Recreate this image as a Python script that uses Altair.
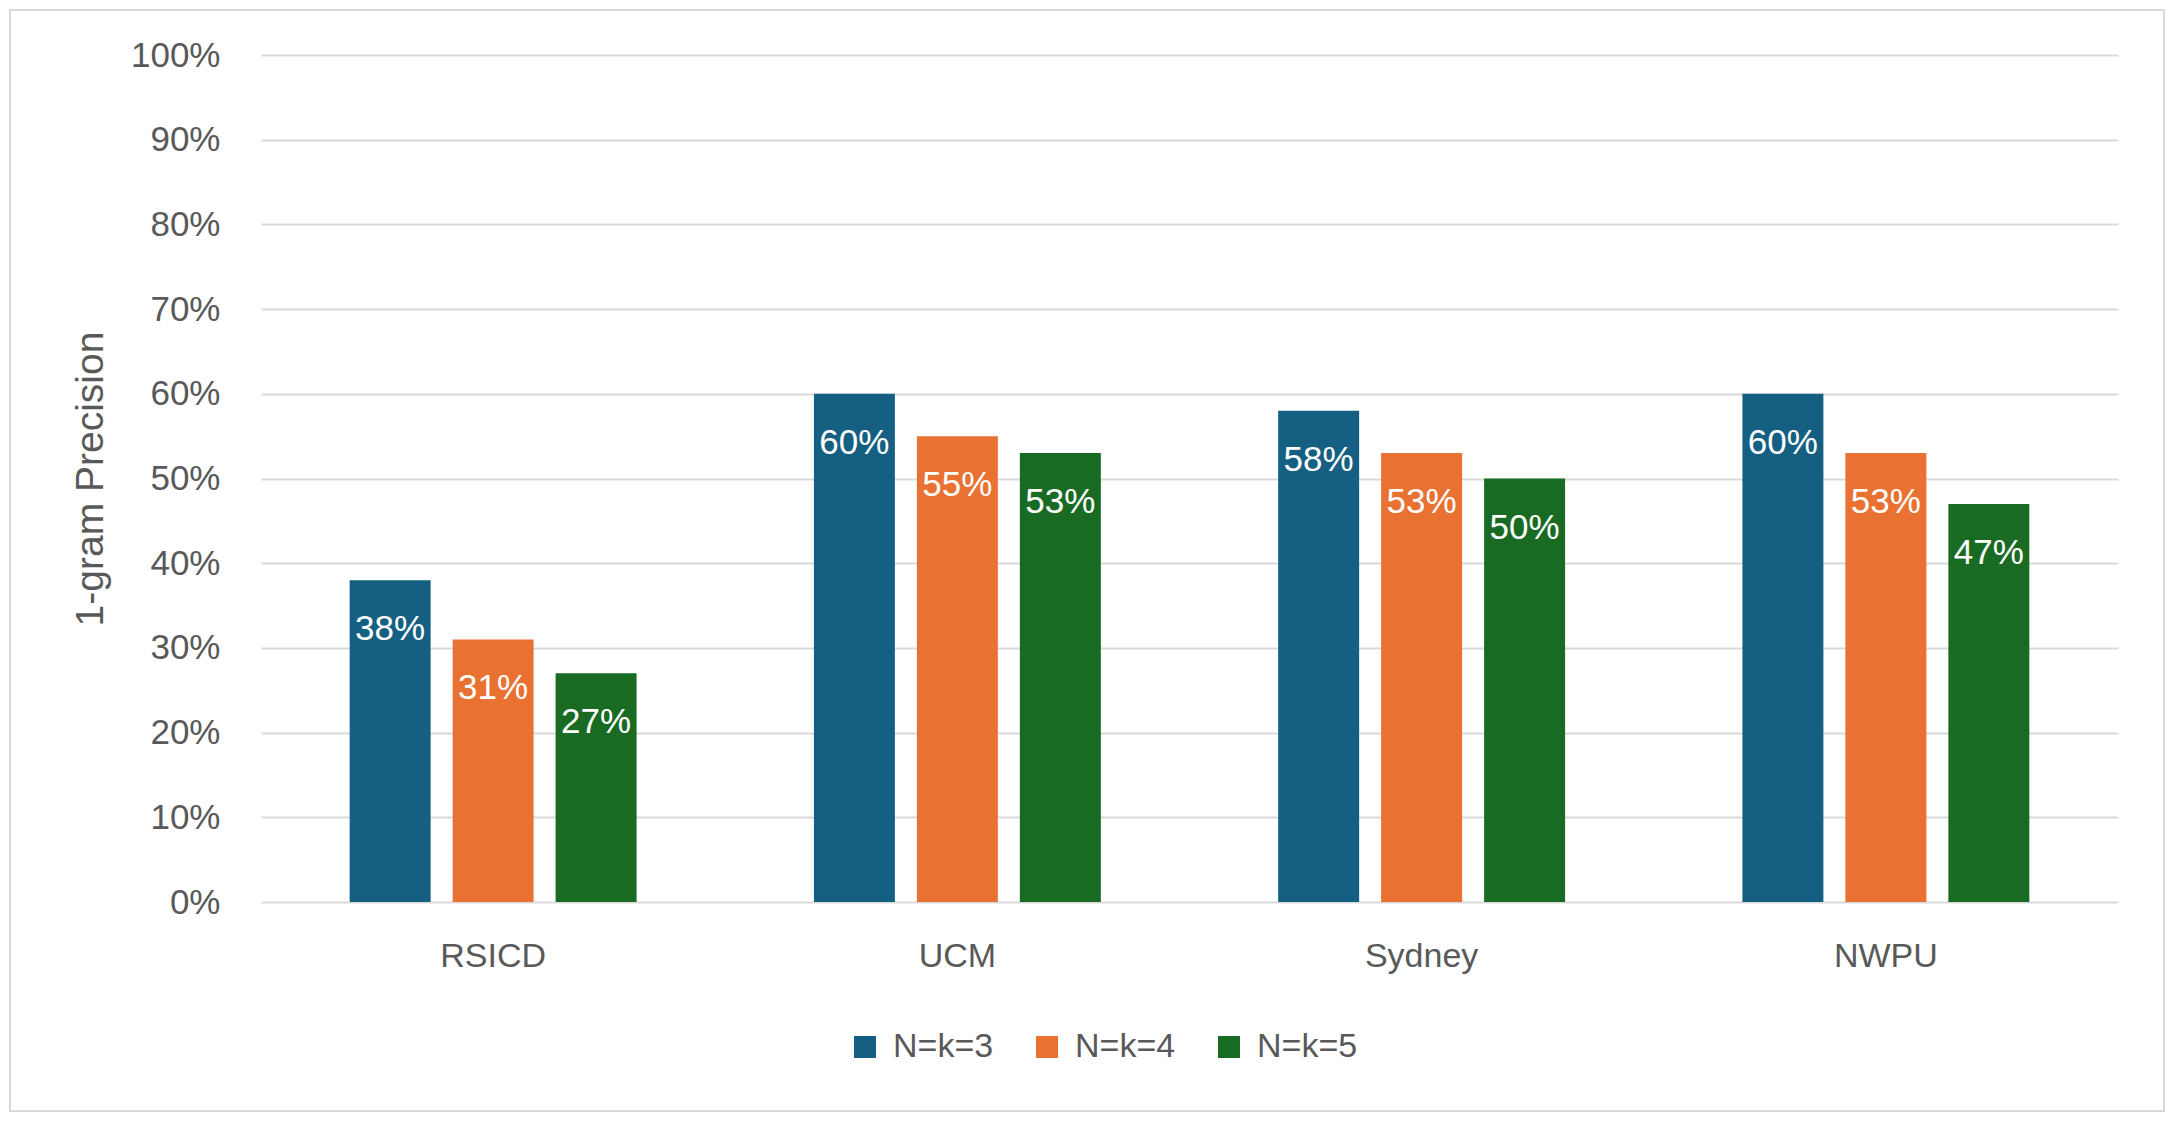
import altair as alt
import pandas as pd

# ---- data ----
categories = ["RSICD", "UCM", "Sydney", "NWPU"]
series = ["N=k=3", "N=k=4", "N=k=5"]
values_n3 = [0.38, 0.60, 0.58, 0.60]
values_n4 = [0.31, 0.55, 0.53, 0.53]
values_n5 = [0.27, 0.53, 0.50, 0.47]
y_ticks = [0.0, 0.1, 0.2, 0.3, 0.4, 0.5, 0.6, 0.7, 0.8, 0.9, 1.0]
y_title = "1-gram Precision"

colors = ["#156082", "#E97132", "#196B24"]
FONT = "Liberation Sans"
GREY = "#595959"
GRID = "#d9d9d9"

rows = []
for s, vals in zip(series, [values_n3, values_n4, values_n5]):
    for c, v in zip(categories, vals):
        rows.append({"dataset": c, "setting": s, "precision": v})
df = pd.DataFrame(rows)

base = alt.Chart(df).encode(
    x=alt.X(
        "dataset:N",
        sort=categories,
        scale=alt.Scale(paddingInner=0, paddingOuter=0),
        axis=alt.Axis(
            title=None,
            labelAngle=0,
            labelFont=FONT,
            labelFontSize=34,
            labelColor=GREY,
            labelPadding=37,
            ticks=False,
            tickSize=0,
            domain=False,
            grid=False,
        ),
    ),
    xOffset=alt.XOffset(
        "setting:N",
        sort=series,
        scale=alt.Scale(paddingInner=0.2136, paddingOuter=0.861),
    ),
    y=alt.Y(
        "precision:Q",
        scale=alt.Scale(domain=[0, 1], nice=False),
        axis=alt.Axis(
            values=y_ticks,
            format=".0%",
            labelFont=FONT,
            labelFontSize=35,
            labelColor=GREY,
            labelPadding=41,
            ticks=False,
            tickSize=0,
            domain=False,
            grid=True,
            gridColor=GRID,
            gridWidth=2,
            title=y_title,
            titleFont=FONT,
            titleFontSize=39,
            titleFontWeight="normal",
            titleColor=GREY,
            titleAngle=270,
            titleX=-171,
            titleY=423.5,
            titleAlign="center",
            titleBaseline="middle",
        ),
    ),
)

bars = base.mark_bar().encode(
    color=alt.Color(
        "setting:N",
        sort=series,
        scale=alt.Scale(domain=series, range=colors),
        legend=alt.Legend(
            title=None,
            orient="none",
            legendX=587,
            legendY=975,
            direction="horizontal",
            symbolType="square",
            symbolSize=484,
            symbolStrokeWidth=0,
            labelFont=FONT,
            labelFontSize=34,
            labelColor=GREY,
            labelOffset=11,
            columnPadding=36,
            padding=0,
        ),
    )
)

labels = base.mark_text(
    baseline="alphabetic", dy=60, color="white", fontSize=35, font=FONT
).encode(text=alt.Text("precision:Q", format=".0%"))

border = alt.Chart(pd.DataFrame({"k": [0]})).mark_rect(
    fill="transparent", stroke=GRID, strokeWidth=2
).encode(
    x=alt.value(-251), x2=alt.value(1903), y=alt.value(-45), y2=alt.value(1056)
)

chart = (
    alt.layer(border, bars, labels)
    .properties(
        width=1857,
        height=847,
        padding={"left": 253, "top": 47, "right": 48, "bottom": 211},
        autosize=alt.AutoSizeParams(type="none"),
        background="white",
    )
    .configure_view(strokeWidth=0)
)

chart.save("out.html", embed_options={"renderer": "svg", "actions": False})
